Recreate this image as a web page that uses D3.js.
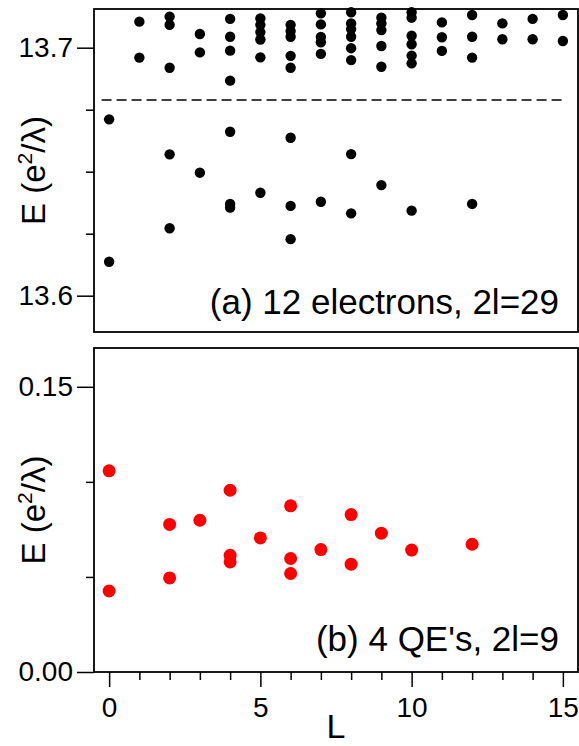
<!DOCTYPE html>
<html>
<head>
<meta charset="utf-8">
<script src="https://cdn.jsdelivr.net/npm/d3@7"></script>
<style>
  body { margin: 0; background: #fff; }
  text { font-family: "Liberation Sans", Arial, sans-serif; fill: #000; }
</style>
</head>
<body>
<svg id="chart" width="579" height="746"></svg>
<script>
// (a) 12 electrons, 2l=29 : [L, E]
const electronL = [
  1, 1, 2, 2, 2, 3, 3, 4, 4, 4, 4,
  5, 5, 5, 5, 5, 6, 6, 6, 6, 6,
  7, 7, 7, 7, 7, 8, 8, 8, 8, 8, 8,
  9, 9, 9, 9, 9, 10, 10, 10, 10, 10, 10,
  11, 11, 11, 12, 12, 12, 13, 13, 14, 14, 15, 15,
  0, 0, 2, 2, 3, 4, 4, 4, 5, 6, 6, 6, 7, 8, 8, 9, 10, 12
];
const electronE = [
  13.7105, 13.6960, 13.7125, 13.7092, 13.6919, 13.7055, 13.6981, 13.7116, 13.7044, 13.6988, 13.6867,
  13.7118, 13.7092, 13.7063, 13.7033, 13.6961, 13.7092, 13.7067, 13.7044, 13.6967, 13.6919,
  13.7139, 13.7094, 13.7043, 13.7022, 13.6975, 13.7143, 13.7098, 13.7075, 13.7044, 13.6998, 13.6950,
  13.7121, 13.7098, 13.7071, 13.7007, 13.6923, 13.7143, 13.7121, 13.7048, 13.7014, 13.6968, 13.6937,
  13.7102, 13.7042, 13.6987, 13.7132, 13.7044, 13.6960, 13.7098, 13.7034, 13.7116, 13.7034, 13.7132, 13.7027,
  13.6711, 13.6137, 13.6570, 13.6272, 13.6496, 13.6661, 13.6370, 13.6355, 13.6415, 13.6637, 13.6362, 13.6228,
  13.6379, 13.6571, 13.6332, 13.6446, 13.6343, 13.6370
];
const gapEnergy = 13.6789;

// (b) 4 QE's, 2l=9
const qeL = [0, 0, 2, 2, 3, 4, 4, 4, 5, 6, 6, 6, 7, 8, 8, 9, 10, 12];
const qeE = [0.1058, 0.0426, 0.0776, 0.0495, 0.0798, 0.0956, 0.0614, 0.0579, 0.0705,
             0.0874, 0.0597, 0.0518, 0.0644, 0.0828, 0.0567, 0.0730, 0.0641, 0.0672];

const xMajor = [0, 5, 10, 15];
const xMinor = d3.range(0, 16);
const yMajorA = [13.6, 13.7];
const yMinorA = [13.625, 13.65, 13.675];
const yMajorB = [0, 0.15];
const yMinorB = [0.05, 0.10];

const svg = d3.select("#chart");
const left = 94, right = 578;

const x = d3.scaleLinear().domain([-0.5, 15.5]).range([left, right]);
const yA = d3.scaleLinear().domain([13.58536, 13.7156]).range([332, 9]);
const yB = d3.scaleLinear().domain([0, 0.1704]).range([672, 348]);

function styleAxis(g) {
  g.select(".domain").remove();
  g.selectAll(".tick line").attr("stroke", "#000").attr("stroke-width", 1.5);
  g.selectAll(".tick text").style("font-size", "28px").style("font-family", "Liberation Sans, Arial, sans-serif");
}

// ---- panel (a)
const gA = svg.append("g");
gA.append("g").attr("transform", `translate(${left},0)`)
  .call(d3.axisLeft(yA).tickValues(yMinorA).tickSize(8).tickFormat(""))
  .call(styleAxis);
gA.append("g").attr("transform", `translate(${left},0)`)
  .call(d3.axisLeft(yA).tickValues(yMajorA).tickSize(17).tickPadding(4).tickFormat(d3.format(".1f")))
  .call(styleAxis);

gA.append("line")
  .attr("x1", x(-0.25)).attr("x2", x(15.05))
  .attr("y1", yA(gapEnergy)).attr("y2", yA(gapEnergy))
  .attr("stroke", "#000").attr("stroke-width", 1.5).attr("stroke-dasharray", "10,5");

gA.selectAll(".dotA")
  .data(electronL.map((l, i) => ({ L: l, E: electronE[i] })))
  .enter().append("circle")
  .attr("class", "dotA")
  .attr("cx", d => x(d.L)).attr("cy", d => yA(d.E))
  .attr("r", 5.2).attr("fill", "#000");

gA.append("rect")
  .attr("x", left).attr("y", yA.range()[1])
  .attr("width", right - left).attr("height", yA.range()[0] - yA.range()[1])
  .attr("fill", "none").attr("stroke", "#000").attr("stroke-width", 1.8);

gA.append("text")
  .attr("x", 559).attr("y", 314).attr("text-anchor", "end")
  .style("font-size", "35px").text("(a) 12 electrons, 2l=29");

// ---- panel (b)
const gB = svg.append("g");
gB.append("g").attr("transform", `translate(${left},0)`)
  .call(d3.axisLeft(yB).tickValues(yMinorB).tickSize(8).tickFormat(""))
  .call(styleAxis);
gB.append("g").attr("transform", `translate(${left},0)`)
  .call(d3.axisLeft(yB).tickValues(yMajorB).tickSize(17).tickPadding(4).tickFormat(d3.format(".2f")))
  .call(styleAxis);

gB.append("g").attr("transform", `translate(0,${yB(0)})`)
  .call(d3.axisBottom(x).tickValues(xMinor.filter(v => !xMajor.includes(v))).tickSize(8).tickFormat(""))
  .call(styleAxis);
gB.append("g").attr("transform", `translate(0,${yB(0)})`)
  .call(d3.axisBottom(x).tickValues(xMajor).tickSize(15).tickPadding(10).tickFormat(d3.format("d")))
  .call(styleAxis);

gB.selectAll(".dotB")
  .data(qeL.map((l, i) => ({ L: l, E: qeE[i] })))
  .enter().append("circle")
  .attr("class", "dotB")
  .attr("cx", d => x(d.L)).attr("cy", d => yB(d.E))
  .attr("r", 6.5).attr("fill", "#ff0000");

gB.append("rect")
  .attr("x", left).attr("y", yB.range()[1])
  .attr("width", right - left).attr("height", yB.range()[0] - yB.range()[1])
  .attr("fill", "none").attr("stroke", "#000").attr("stroke-width", 1.8);

gB.append("text")
  .attr("x", 559).attr("y", 651).attr("text-anchor", "end")
  .style("font-size", "35px").text("(b) 4 QE's, 2l=9");

// ---- axis titles
function yTitle(cy) {
  const t = svg.append("text")
    .attr("transform", `translate(45,${cy}) rotate(-90)`)
    .attr("text-anchor", "middle")
    .style("font-size", "33px");
  t.append("tspan").text("E (e");
  t.append("tspan").attr("dy", -13).style("font-size", "21px").text("2");
  t.append("tspan").attr("dy", 13).text("/\u03bb)");
}
yTitle((yA.range()[0] + yA.range()[1]) / 2);
yTitle((yB.range()[0] + yB.range()[1]) / 2);

svg.append("text")
  .attr("x", (left + right) / 2).attr("y", 738)
  .attr("text-anchor", "middle")
  .style("font-size", "34px").text("L");
</script>
</body>
</html>
